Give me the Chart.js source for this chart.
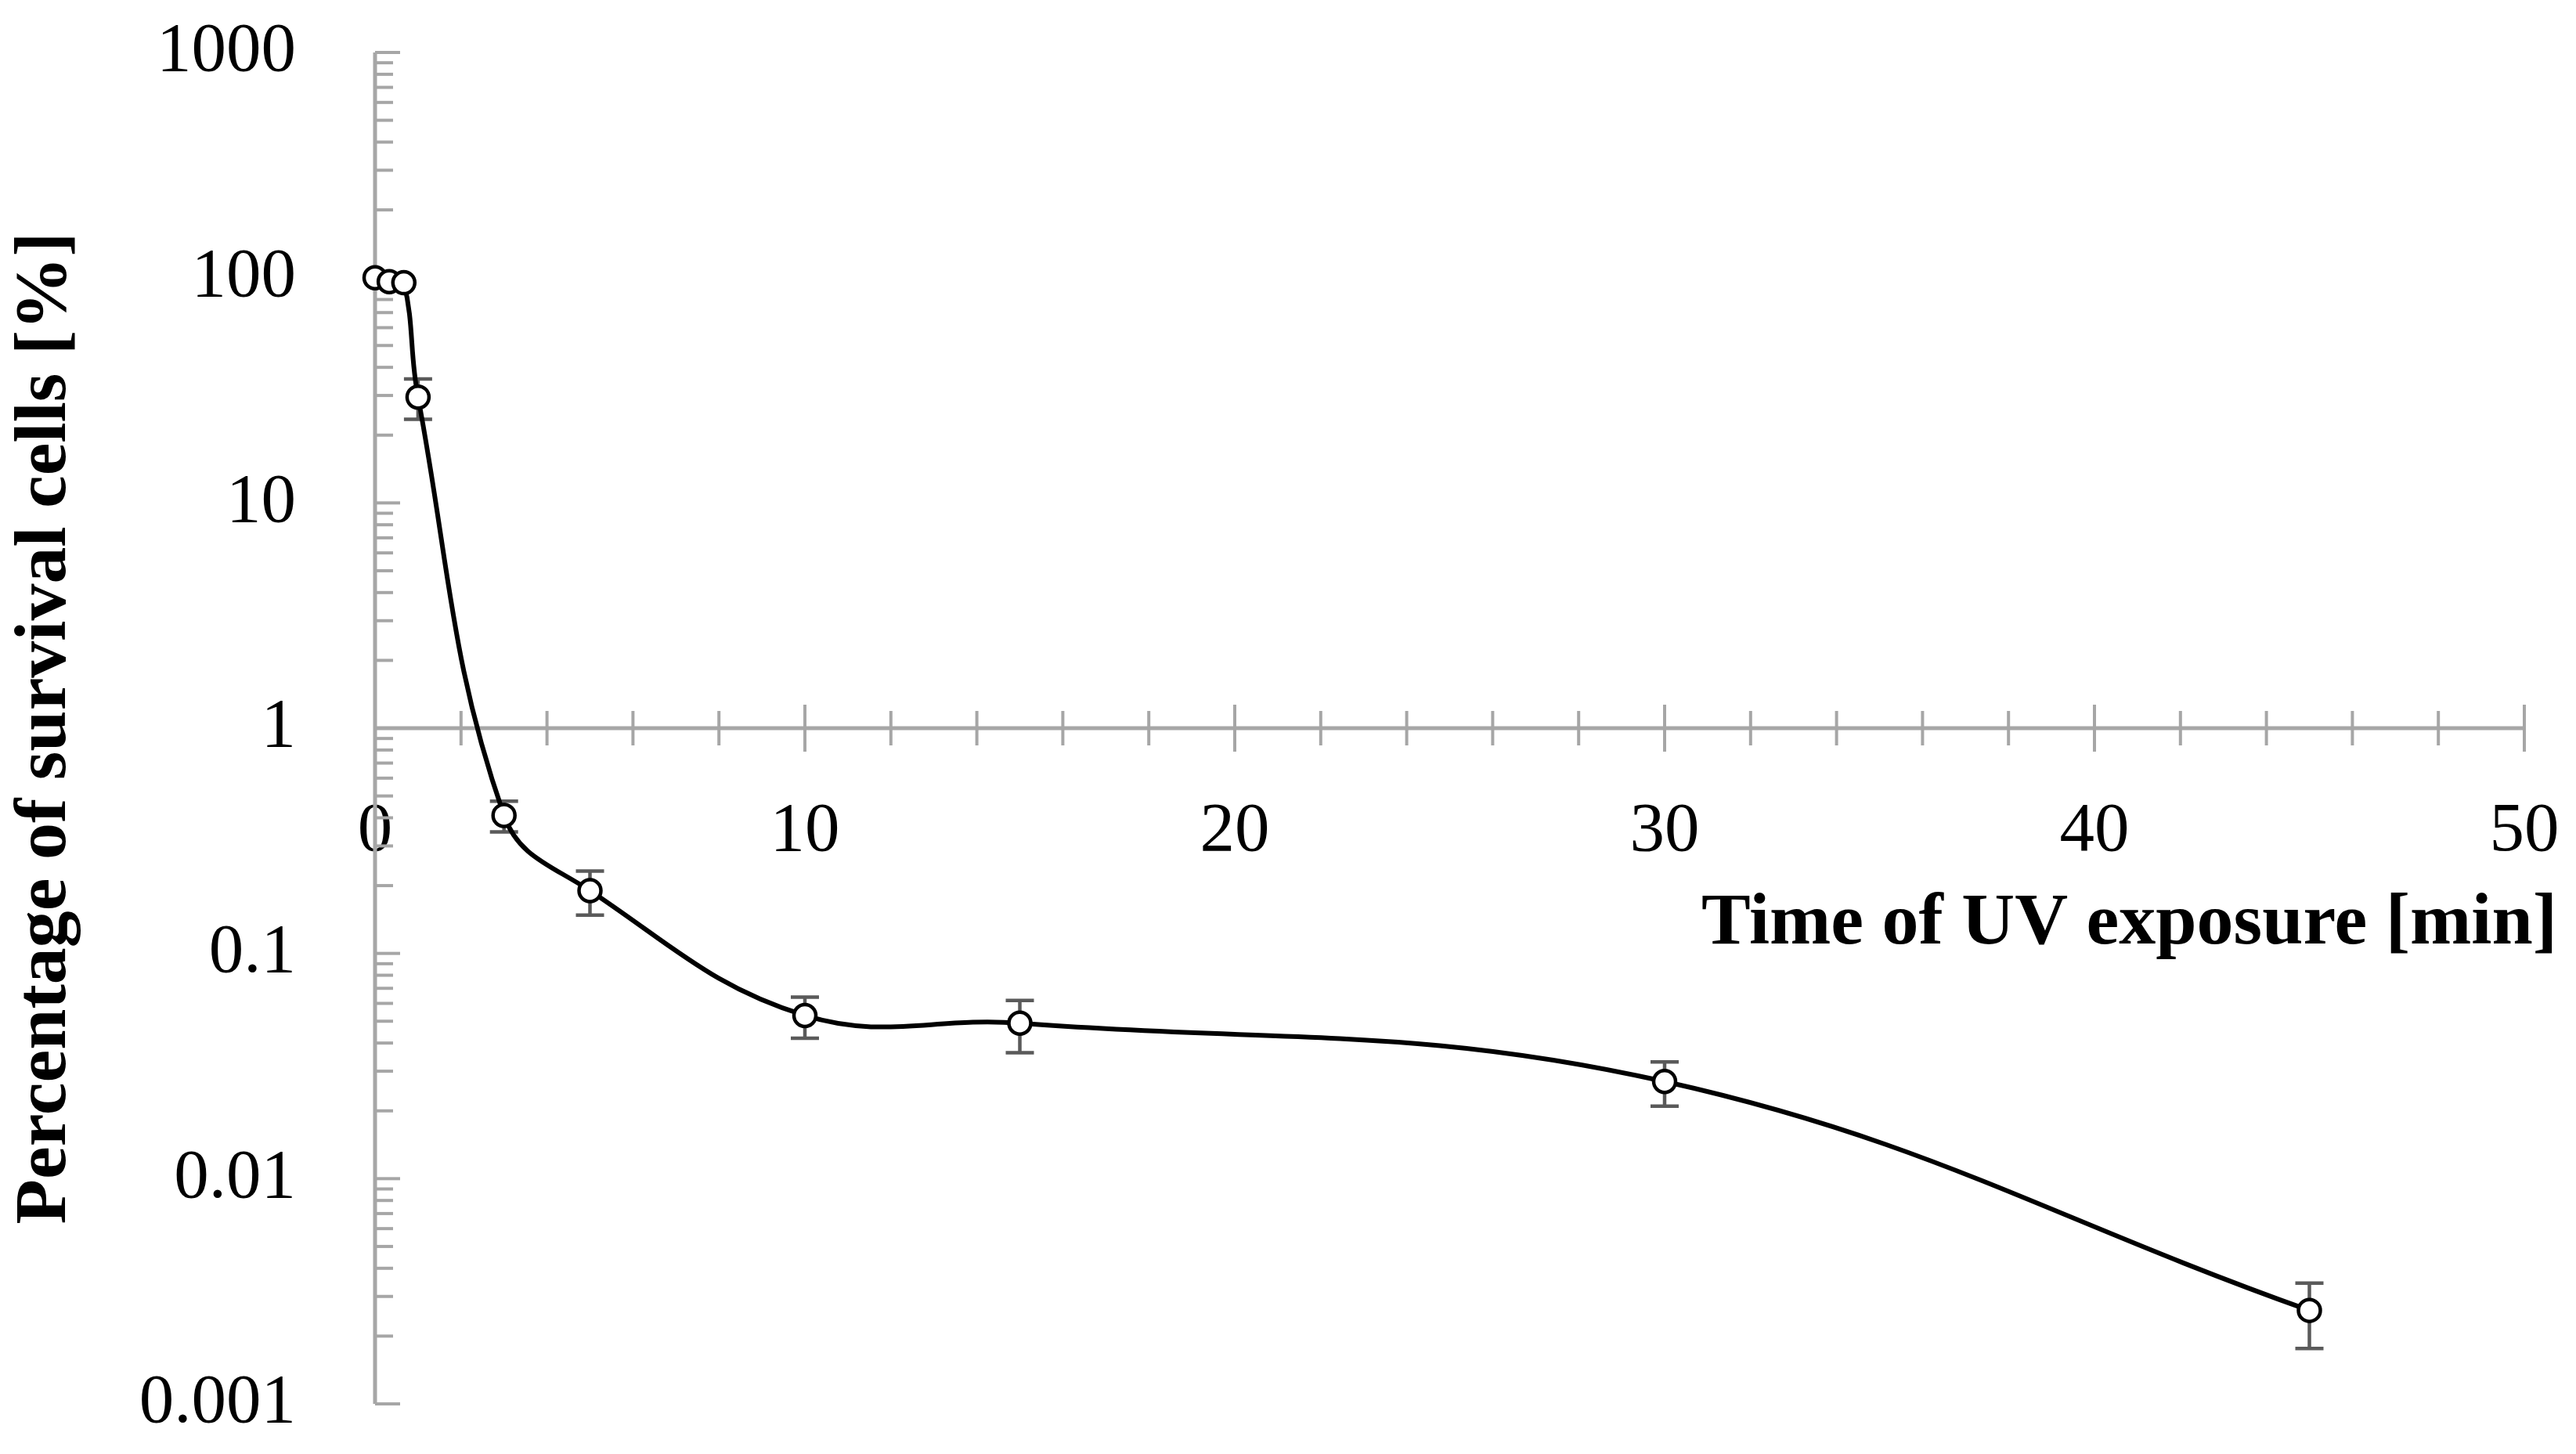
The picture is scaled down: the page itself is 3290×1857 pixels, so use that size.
<!DOCTYPE html>
<html>
<head>
<meta charset="utf-8">
<title>UV survival curve</title>
<script src="https://cdn.jsdelivr.net/npm/chart.js@4.4.1/dist/chart.umd.min.js"></script>
<style>
    html, body { margin: 0; padding: 0; background: #ffffff; }
    canvas { display: block; }
</style>
</head>
<body>
<canvas id="survivalChart" width="3290" height="1857"></canvas>
<script>
// ---- data ----
const exposureTimes = [0, 0.33, 0.67, 1, 3, 5, 10, 15, 30, 45];          // min
const survivalPct   = [100, 96, 95, 29.5, 0.41, 0.19, 0.053, 0.049, 0.027, 0.0026];
const survivalErr   = [0, 0, 0, 6, 0.064, 0.042, 0.011, 0.0128, 0.006, 0.00084];

const xTickValues = [0, 10, 20, 30, 40, 50];
const xTickLabels = ['0', '10', '20', '30', '40', '50'];
const xMinorStep  = 2;
const yTickValues = [0.001, 0.01, 0.1, 1, 10, 100, 1000];
const yTickLabels = ['0.001', '0.01', '0.1', '1', '10', '100', '1000'];

const axisGrey = '#a6a6a6';
const serif = '"Liberation Serif", "DejaVu Serif", serif';

// axis lines and tick marks (Excel style: x axis crosses at y = 1)
const axesPlugin = {
    id: 'excelAxes',
    beforeDatasetsDraw(chart) {
        const ctx = chart.ctx;
        const xs = chart.scales.x;
        const ys = chart.scales.y;
        const x0 = xs.getPixelForValue(xTickValues[0]);
        const x1 = xs.getPixelForValue(xTickValues[xTickValues.length - 1]);
        const yTop = ys.getPixelForValue(yTickValues[yTickValues.length - 1]);
        const yBot = ys.getPixelForValue(yTickValues[0]);
        const yCross = ys.getPixelForValue(1);

        ctx.save();
        ctx.strokeStyle = axisGrey;
        ctx.lineCap = 'butt';

        // y axis minor + major ticks (right side)
        ctx.lineWidth = 4;
        for (let i = 0; i < yTickValues.length; i++) {
            const dec = yTickValues[i];
            let yp = ys.getPixelForValue(dec);
            ctx.beginPath();
            ctx.moveTo(x0, yp);
            ctx.lineTo(x0 + 32, yp);
            ctx.stroke();
            if (i === yTickValues.length - 1) break;
            for (let m = 2; m <= 9; m++) {
                yp = ys.getPixelForValue(dec * m);
                ctx.beginPath();
                ctx.moveTo(x0, yp);
                ctx.lineTo(x0 + 23, yp);
                ctx.stroke();
            }
        }

        // x axis ticks crossing the line
        const xMax = xTickValues[xTickValues.length - 1];
        for (let v = 0; v <= xMax; v += xMinorStep) {
            const xp = xs.getPixelForValue(v);
            const major = xTickValues.includes(v);
            const h = major ? 30 : 22;
            ctx.beginPath();
            ctx.moveTo(xp, yCross - h);
            ctx.lineTo(xp, yCross + h);
            ctx.stroke();
        }

        // axis lines
        ctx.lineWidth = 5;
        ctx.beginPath();
        ctx.moveTo(x0, yTop);
        ctx.lineTo(x0, yBot);
        ctx.stroke();
        ctx.beginPath();
        ctx.moveTo(x0, yCross);
        ctx.lineTo(x1, yCross);
        ctx.stroke();
        ctx.restore();
    }
};

// vertical error bars with caps
const errorBarPlugin = {
    id: 'errorBars',
    beforeDatasetsDraw(chart) {
        const ctx = chart.ctx;
        const xs = chart.scales.x;
        const ys = chart.scales.y;
        ctx.save();
        ctx.strokeStyle = '#5a5a5a';
        ctx.lineWidth = 4.5;
        survivalPct.forEach((v, i) => {
            const e = survivalErr[i];
            if (!e) return;
            const xp = xs.getPixelForValue(exposureTimes[i]);
            const yHi = ys.getPixelForValue(v + e);
            const yLo = ys.getPixelForValue(v - e);
            ctx.beginPath();
            ctx.moveTo(xp, yHi);
            ctx.lineTo(xp, yLo);
            ctx.moveTo(xp - 18, yHi);
            ctx.lineTo(xp + 18, yHi);
            ctx.moveTo(xp - 18, yLo);
            ctx.lineTo(xp + 18, yLo);
            ctx.stroke();
        });
        ctx.restore();
    }
};

document.addEventListener('DOMContentLoaded', function() {
    const ctx = document.getElementById('survivalChart').getContext('2d');
    new Chart(ctx, {
        type: 'line',
        data: {
            datasets: [{
                label: 'Survival',
                data: exposureTimes.map((t, i) => ({x: t, y: survivalPct[i]})),
                borderColor: '#000000',
                borderWidth: 6,
                tension: 0.4,
                pointRadius: 14,
                pointBorderWidth: 4.5,
                pointBackgroundColor: '#ffffff',
                pointBorderColor: '#000000',
                clip: false
            }]
        },
        options: {
            responsive: false,
            devicePixelRatio: 1,
            animation: false,
            layout: {
                padding: {left: 0, top: 67, right: 24, bottom: 64}
            },
            plugins: {
                legend: {display: false},
                tooltip: {enabled: false}
            },
            scales: {
                x: {
                    type: 'linear',
                    position: {y: 1},
                    min: 0,
                    max: 50.765,
                    grid: {display: false},
                    border: {display: false},
                    afterBuildTicks: s => { s.ticks = xTickValues.map(v => ({value: v})); },
                    afterFit: s => {
                        s.height = 307;
                        s.paddingLeft = 0;
                        s.paddingRight = 0;
                    },
                    ticks: {
                        autoSkip: false,
                        maxRotation: 0,
                        padding: 71,
                        color: '#000000',
                        font: {family: serif, size: 89},
                        callback: v => xTickLabels[xTickValues.indexOf(v)]
                    },
                    title: {
                        display: true,
                        text: 'Time of UV exposure [min]',
                        align: 'end',
                        color: '#000000',
                        padding: 0,
                        font: {family: serif, size: 94, weight: 'bold'}
                    }
                },
                y: {
                    type: 'logarithmic',
                    min: 0.001,
                    max: 1000,
                    grid: {display: false},
                    border: {display: false},
                    afterBuildTicks: s => { s.ticks = yTickValues.map(v => ({value: v})); },
                    afterFit: s => {
                        s.width = 479;
                        s.paddingTop = 0;
                        s.paddingBottom = 0;
                    },
                    ticks: {
                        autoSkip: false,
                        padding: 93,
                        color: '#000000',
                        font: {family: serif, size: 89},
                        callback: v => yTickLabels[yTickValues.indexOf(v)]
                    },
                    title: {
                        display: true,
                        text: 'Percentage of survival cells [%]',
                        color: '#000000',
                        padding: {top: 2, bottom: 0},
                        font: {family: serif, size: 94, weight: 'bold'}
                    }
                }
            }
        },
        plugins: [axesPlugin, errorBarPlugin]
    });
});
</script>
</body>
</html>
